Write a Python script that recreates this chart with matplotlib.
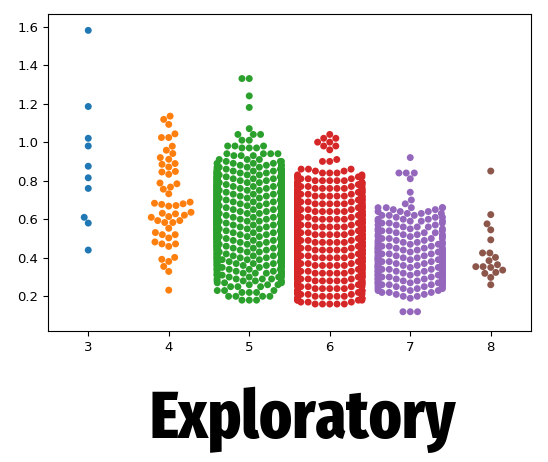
import numpy as np
import pandas as pd
import matplotlib
matplotlib.use("Agg")
import matplotlib.pyplot as plt
import seaborn as sns

# Valores (acidez volátil por calidad)
q3_vals = [1.58, 1.185, 1.02, 0.98, 0.875, 0.815, 0.76, 0.61, 0.58, 0.44]

q4_vals = [1.135, 1.118, 1.092, 1.043, 1.024, 1.024, 0.979, 0.958, 0.941, 0.92,
           0.911, 0.885, 0.889, 0.871, 0.845, 0.848, 0.833, 0.788, 0.784, 0.767,
           0.756, 0.732, 0.683, 0.677, 0.671, 0.668, 0.68, 0.689, 0.636, 0.631,
           0.621, 0.614, 0.628, 0.61, 0.593, 0.583, 0.583, 0.593, 0.553, 0.531,
           0.52, 0.52, 0.503, 0.482, 0.472, 0.472, 0.459, 0.392, 0.402, 0.381,
           0.355, 0.329, 0.232]

# calidades 5, 6 y 7: (valor, cantidad de puntos)
q5_pairs = [(1.33, 2), (1.24, 1), (1.18, 1), (1.07, 1), (1.04, 3), (1.01, 2),
            (0.98, 3), (0.97, 3), (0.94, 4), (0.93, 3), (0.91, 3), (0.90, 3),
            (0.89, 4), (0.88, 4), (0.87, 4), (0.86, 5), (0.85, 6), (0.84, 8),
            (0.83, 8), (0.82, 9), (0.81, 9), (0.80, 10), (0.79, 10), (0.78, 11),
            (0.77, 11), (0.76, 12), (0.75, 12), (0.74, 12), (0.73, 12), (0.72, 12),
            (0.71, 12), (0.70, 13), (0.69, 13), (0.68, 14), (0.67, 14), (0.66, 14),
            (0.65, 14), (0.64, 14), (0.63, 14), (0.62, 14), (0.61, 14), (0.60, 15),
            (0.59, 15), (0.58, 15), (0.57, 15), (0.56, 14), (0.55, 14), (0.54, 13),
            (0.53, 13), (0.52, 12), (0.51, 12), (0.50, 11), (0.49, 11), (0.48, 10),
            (0.47, 10), (0.46, 9), (0.45, 9), (0.44, 8), (0.43, 8), (0.42, 8),
            (0.41, 7), (0.40, 7), (0.39, 7), (0.38, 6), (0.37, 6), (0.36, 6),
            (0.35, 5), (0.34, 5), (0.33, 5), (0.32, 5), (0.31, 4), (0.30, 4),
            (0.29, 4), (0.28, 4), (0.27, 3), (0.26, 3), (0.25, 3), (0.23, 3),
            (0.22, 3), (0.20, 4), (0.18, 3)]

q6_pairs = [(1.04, 1), (1.02, 2), (1.00, 2), (0.98, 2), (0.96, 1), (0.91, 1),
            (0.90, 2), (0.86, 3), (0.85, 2), (0.84, 3), (0.83, 2), (0.82, 3),
            (0.81, 4), (0.80, 5), (0.79, 6), (0.78, 6), (0.77, 6), (0.76, 7),
            (0.75, 7), (0.74, 7), (0.73, 7), (0.72, 8), (0.71, 8), (0.70, 8),
            (0.69, 9), (0.68, 9), (0.67, 10), (0.66, 10), (0.65, 11), (0.64, 11),
            (0.63, 12), (0.62, 12), (0.61, 12), (0.60, 12), (0.59, 13), (0.58, 13),
            (0.57, 13), (0.56, 13), (0.55, 13), (0.54, 13), (0.53, 13), (0.52, 13),
            (0.51, 13), (0.50, 13), (0.49, 13), (0.48, 13), (0.47, 13), (0.46, 13),
            (0.45, 13), (0.44, 13), (0.43, 12), (0.42, 12), (0.41, 12), (0.40, 12),
            (0.39, 11), (0.38, 11), (0.37, 10), (0.36, 10), (0.35, 9), (0.34, 9),
            (0.33, 9), (0.32, 8), (0.31, 8), (0.30, 8), (0.29, 7), (0.28, 7),
            (0.27, 6), (0.26, 6), (0.25, 5), (0.24, 5), (0.23, 5), (0.22, 5),
            (0.21, 5), (0.20, 5), (0.19, 5), (0.18, 4), (0.17, 3), (0.16, 5)]

q7_pairs = [(0.92, 1), (0.84, 3), (0.81, 1), (0.74, 1), (0.70, 1), (0.68, 1),
            (0.66, 5), (0.65, 2), (0.64, 3), (0.63, 3), (0.62, 3), (0.61, 3),
            (0.60, 3), (0.59, 4), (0.58, 3), (0.57, 3), (0.56, 3), (0.55, 3),
            (0.54, 4), (0.53, 3), (0.52, 4), (0.51, 3), (0.50, 4), (0.49, 3),
            (0.48, 4), (0.47, 4), (0.46, 4), (0.45, 5), (0.44, 5), (0.43, 5),
            (0.42, 5), (0.41, 5), (0.40, 5), (0.39, 5), (0.38, 6), (0.37, 5),
            (0.36, 5), (0.35, 6), (0.34, 5), (0.33, 5), (0.32, 5), (0.31, 5),
            (0.30, 5), (0.29, 5), (0.28, 5), (0.27, 5), (0.26, 5), (0.25, 4),
            (0.24, 4), (0.23, 3), (0.22, 3), (0.21, 2), (0.20, 2), (0.19, 1),
            (0.12, 3)]

q8_vals = [0.85, 0.624, 0.576, 0.545, 0.493, 0.425, 0.425, 0.402, 0.385,
           0.364, 0.354, 0.35, 0.354, 0.336, 0.319, 0.324, 0.298, 0.26]

quality = [3, 4, 5, 6, 7, 8]
colors = ['#1f77b4', '#ff7f0e', '#2ca02c', '#d62728', '#9467bd', '#8c564b']


def expand(pairs):
    vals, counts = zip(*pairs)
    return np.repeat(vals, counts)


series = {
    3: np.array(q3_vals),
    4: np.array(q4_vals),
    5: expand(q5_pairs),
    6: expand(q6_pairs),
    7: expand(q7_pairs),
    8: np.array(q8_vals),
}
df = pd.concat([pd.DataFrame({'quality': q, 'va': series[q]}) for q in quality],
               ignore_index=True)

fig = plt.figure(figsize=(5.48, 4.62), dpi=100)
ax = fig.add_axes([48 / 548, 131 / 462, 483 / 548, 317 / 462])

sns.swarmplot(data=df, x='quality', y='va', hue='quality', order=quality,
              hue_order=quality, palette=colors, size=5, legend=False, ax=ax)

ax.set_xlabel('')
ax.set_ylabel('')
ax.set_ylim(0.02, 1.665)
ax.tick_params(labelsize=9.5)

fig.text(303 / 548, 24 / 462, 'Exploratory', ha='center', va='baseline',
         fontsize=48.5, fontweight=800,
         family=['Fira Sans Extra Condensed', 'Saira ExtraCondensed', 'DejaVu Sans'])

fig.savefig('out.png', dpi=100)
